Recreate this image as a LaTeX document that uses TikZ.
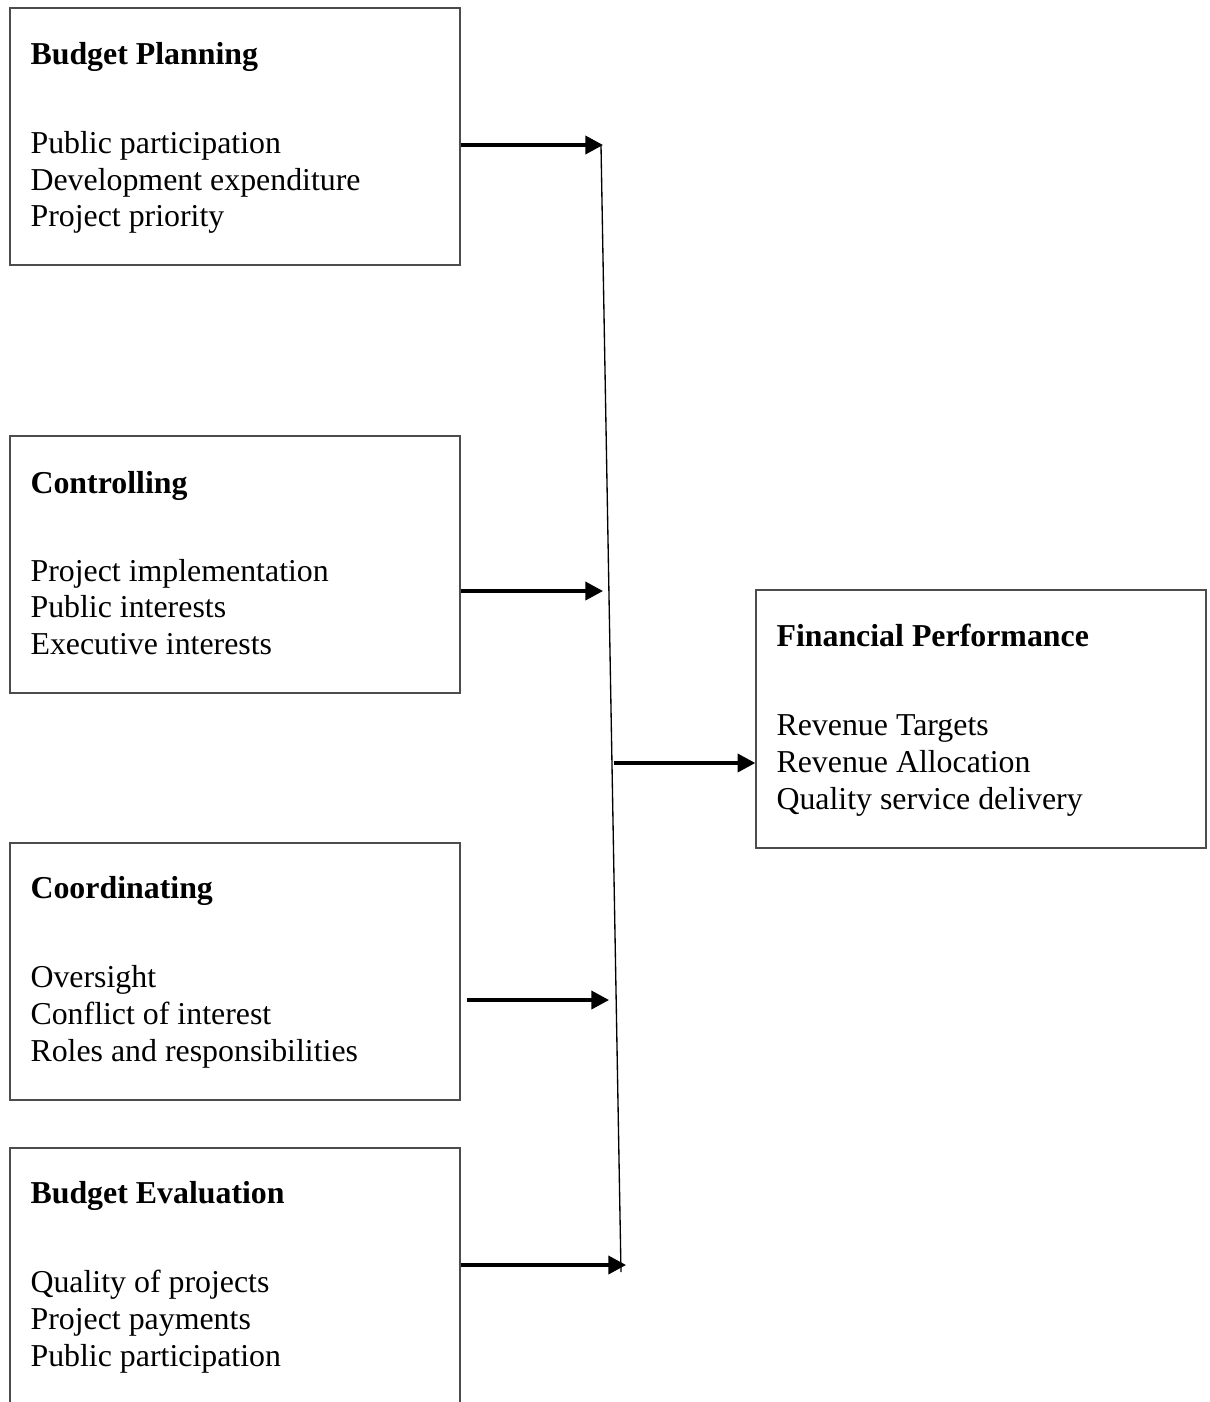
\documentclass[tikz,border=0pt]{standalone}
\usepackage{fontspec}
\setmainfont{Liberation Serif}
\usetikzlibrary{arrows.meta}
\begin{document}
\begin{tikzpicture}[x=0.375pt,y=-0.375pt,
  box/.style={draw=black!70, line width=0.55pt, rectangle, inner sep=0pt,
              minimum width=168.75pt, minimum height=96.4pt},
  txt/.style={anchor=base west, inner sep=0pt, font=\fontsize{11.95}{13.9}\selectfont},
  head/.style={anchor=base west, inner sep=0pt, font=\fontsize{11.95}{13.9}\selectfont\bfseries},
  arr/.style={line width=1.2pt, -{Triangle[length=6.6pt,width=6.8pt]}},
  spine/.style={line width=0.5pt}]
\useasboundingbox (0,0) rectangle (1210,1402);
\clip (0,0) rectangle (1210,1402);
\fill[white] (0,0) rectangle (1210,1402);

% boxes
\node[box] (bp) at (235,136.5) {};
\node[box] (ct) at (235,564.5) {};
\node[box] (co) at (235,971.5) {};
\node[box] (be) at (235,1276.5) {};
\node[box, minimum height=96.8pt] (fp) at (981,719) {};

% texts
\node[head] (bp0) at (30,64) {Budget Planning};
\node[txt] (bp1) at (30,153) {Public participation};
\node[txt] (bp2) at (30,190) {Development expenditure};
\node[txt] (bp3) at (30,226) {Project priority};

\node[head] (ct0) at (30,493) {Controlling};
\node[txt] (ct1) at (30,581) {Project implementation};
\node[txt] (ct2) at (30,617) {Public interests};
\node[txt] (ct3) at (30,654) {Executive interests};

\node[head] (co0) at (30,898) {Coordinating};
\node[txt] (co1) at (30,987) {Oversight};
\node[txt] (co2) at (30,1024) {Conflict of interest};
\node[txt] (co3) at (30,1061) {Roles and responsibilities};

\node[head] (be0) at (30,1203) {Budget Evaluation};
\node[txt] (be1) at (30,1292) {Quality of projects};
\node[txt] (be2) at (30,1329) {Project payments};
\node[txt] (be3) at (30,1366) {Public participation};

\node[head] (fp0) at (776,646) {Financial Performance};
\node[txt] (fp1) at (776,735) {Revenue Targets};
\node[txt] (fp2) at (776,772) {Revenue Allocation};
\node[txt] (fp3) at (776,809) {Quality service delivery};

% spine
\coordinate (vt) at (601,145);
\coordinate (vb) at (621,1272);
\draw[spine] (vt) -- (vb);

% arrows into spine
\coordinate (e1) at (603,145);
\coordinate (e2) at (603,591);
\coordinate (s3) at (467,1000);
\coordinate (e3) at (609,1000);
\coordinate (e4) at (626,1265);
\draw[arr] (bp.east |- e1) -- (e1);
\draw[arr] (ct.east |- e2) -- (e2);
\draw[arr] (s3) -- (e3);
\draw[arr] (be.east |- e4) -- (e4);

% arrow to outcome
\coordinate (s5) at (614,763);
\draw[arr] (s5) -- (fp.west |- s5);
\end{tikzpicture}
\end{document}
